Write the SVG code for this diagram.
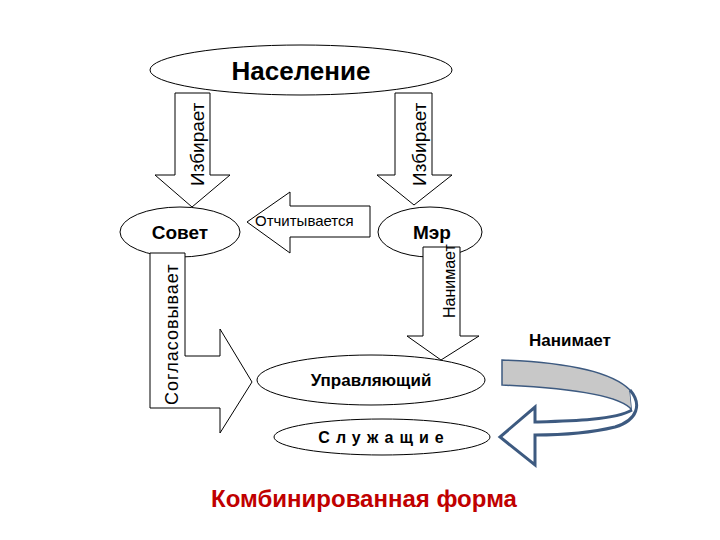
<svg xmlns="http://www.w3.org/2000/svg" width="720" height="540" viewBox="0 0 720 540">
<style>
.s{fill:#fff;stroke:#000;stroke-width:1}
.t{font-family:"Liberation Sans",Arial,sans-serif;fill:#000}
</style>
<rect width="720" height="540" fill="#fff"/>
<g id="naselenie"><ellipse class="s" cx="301" cy="70" rx="151" ry="25"/><text class="t" font-size="26" font-weight="bold" x="301" y="80" text-anchor="middle">Население</text></g>
<g id="sovet"><ellipse class="s" cx="180" cy="232" rx="60" ry="25"/><text class="t" font-size="19" font-weight="bold" x="180" y="239" text-anchor="middle">Совет</text></g>
<g id="mer"><ellipse class="s" cx="430" cy="232" rx="52" ry="25"/><text class="t" font-size="19" font-weight="bold" x="432" y="239" text-anchor="middle">Мэр</text></g>
<g id="upr"><ellipse class="s" cx="371" cy="380" rx="114" ry="25"/><text class="t" font-size="17" font-weight="bold" x="371" y="386" text-anchor="middle">Управляющий</text></g>
<g id="sluzh"><ellipse class="s" cx="382" cy="437" rx="108" ry="18"/><text class="t" font-size="16" font-weight="bold" x="384" y="443" text-anchor="middle" letter-spacing="6">Служащие</text></g>
<g id="connectors">
<polygon class="s" points="175,93 210,93 210,175 230,175 192,207 155,175 175,175"/>
<text class="t" font-size="19" transform="translate(204,186) rotate(-90)">Избирает</text>
<polygon class="s" points="395,93 432,93 432,175 452,175 414,205 377,175 395,175"/>
<text class="t" font-size="19" transform="translate(426,186) rotate(-90)">Избирает</text>
<polygon class="s" points="370,206 370,237 290,237 290,253 247,222 290,192 290,206"/>
<text class="t" font-size="15" x="255" y="226">Отчитывается</text>
<polygon class="s" points="423,247 460,247 460,336 479,336 441,360 407,336 423,336"/>
<text class="t" font-size="16" transform="translate(455,318) rotate(-90)">Нанимает</text>
<polygon class="s" points="150,253 185,253 185,356 220,356 220,329 252,382 220,433 220,408 150,408"/>
<text class="t" font-size="18" letter-spacing="1" transform="translate(178,405) rotate(-90)">Согласовывает</text>
<path d="M502,360 C560,362 610,370 630,390 L632,410 C620,395 570,388 502,385 Z" fill="#c8c8c8" stroke="#3d5a80" stroke-width="1.5"/>
<path d="M630,390 C642,404 638,420 615,427 C590,433 565,435 535,435 L535,465 L500,437 L535,407 L535,422 C570,421 615,420 632,410" fill="#fff" stroke="#3d5a80" stroke-width="3"/>
</g>
<text class="t" font-size="17" font-weight="bold" x="570" y="346" text-anchor="middle">Нанимает</text>
<text font-family="Liberation Sans,Arial,sans-serif" font-size="24" font-weight="bold" fill="#c00000" x="364" y="507" text-anchor="middle">Комбинированная форма</text>
</svg>
